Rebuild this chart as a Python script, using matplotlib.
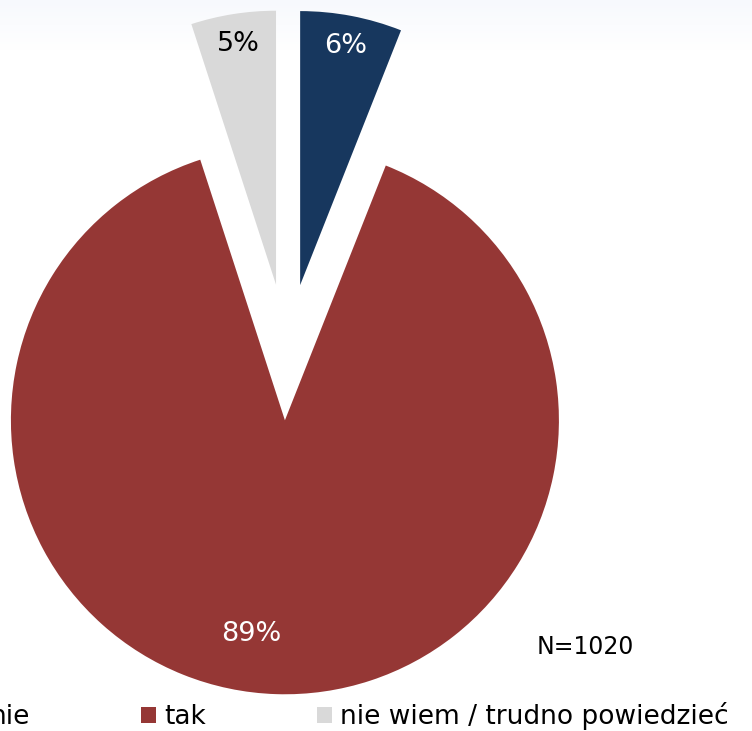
import numpy as np
import matplotlib
matplotlib.use("Agg")
import matplotlib.pyplot as plt

# survey answers, clockwise from 12 o'clock
labels = ["nie", "tak", "nie wiem / trudno powiedzieć"]
shares = [6, 89, 5]
sample_note = "N=1020"

colors = ["#17375E", "#953735", "#D9D9D9"]
pct_colors = ["white", "white", "black"]
explode = [0.256, 0.242, 0.256]

plt.rcParams["font.family"] = ["DejaVu Sans"]

W, H = 752, 731
fig = plt.figure(figsize=(W / 100, H / 100), dpi=100)

# faint slide background at the top edge
bg = fig.add_axes([0, 0.93, 1, 0.07], zorder=0)
fade = np.zeros((64, 2, 4))
fade[..., 0], fade[..., 1], fade[..., 2] = 0.94, 0.955, 0.985
fade[..., 3] = np.linspace(0.5, 0.0, 64)[:, None]
bg.imshow(fade, aspect="auto", extent=(0, 1, 0, 1))
bg.axis("off")

ax = fig.add_axes([0, 0, 1, 1], zorder=1)
ax.patch.set_alpha(0)
R = 274.0          # pie radius in pixels
cx, cy = 287.0, 354.0  # pie centre in pixels (from top-left)

wedges, _, pcts = ax.pie(
    shares, explode=explode, colors=colors, startangle=90, counterclock=False,
    autopct=lambda p: f"{p:.0f}%", pctdistance=0.89, radius=1,
    wedgeprops=dict(linewidth=0), textprops=dict(fontsize=19.5))
for t, c in zip(pcts, pct_colors):
    t.set_color(c)
# the big slice label sits lower-left inside the slice
pcts[1].set_position(((251 - cx) / R, (cy - 634) / R))

ax.set_aspect("auto")
ax.set_xlim(-cx / R, (W - cx) / R)
ax.set_ylim((cy - H) / R, cy / R)
ax.axis("off")

fig.text(585 / W, 1 - 647 / H, sample_note, ha="center", va="center",
         fontsize=17, color="black")

fig.legend(wedges, labels, loc="center left", ncol=3,
           bbox_to_anchor=(-33 / W, 1 - 716 / H), frameon=False,
           fontsize=19, borderpad=0, borderaxespad=0,
           handlelength=0.57, handleheight=0.57, handletextpad=0.3,
           columnspacing=4.2)

fig.savefig("out.png", dpi=100)
